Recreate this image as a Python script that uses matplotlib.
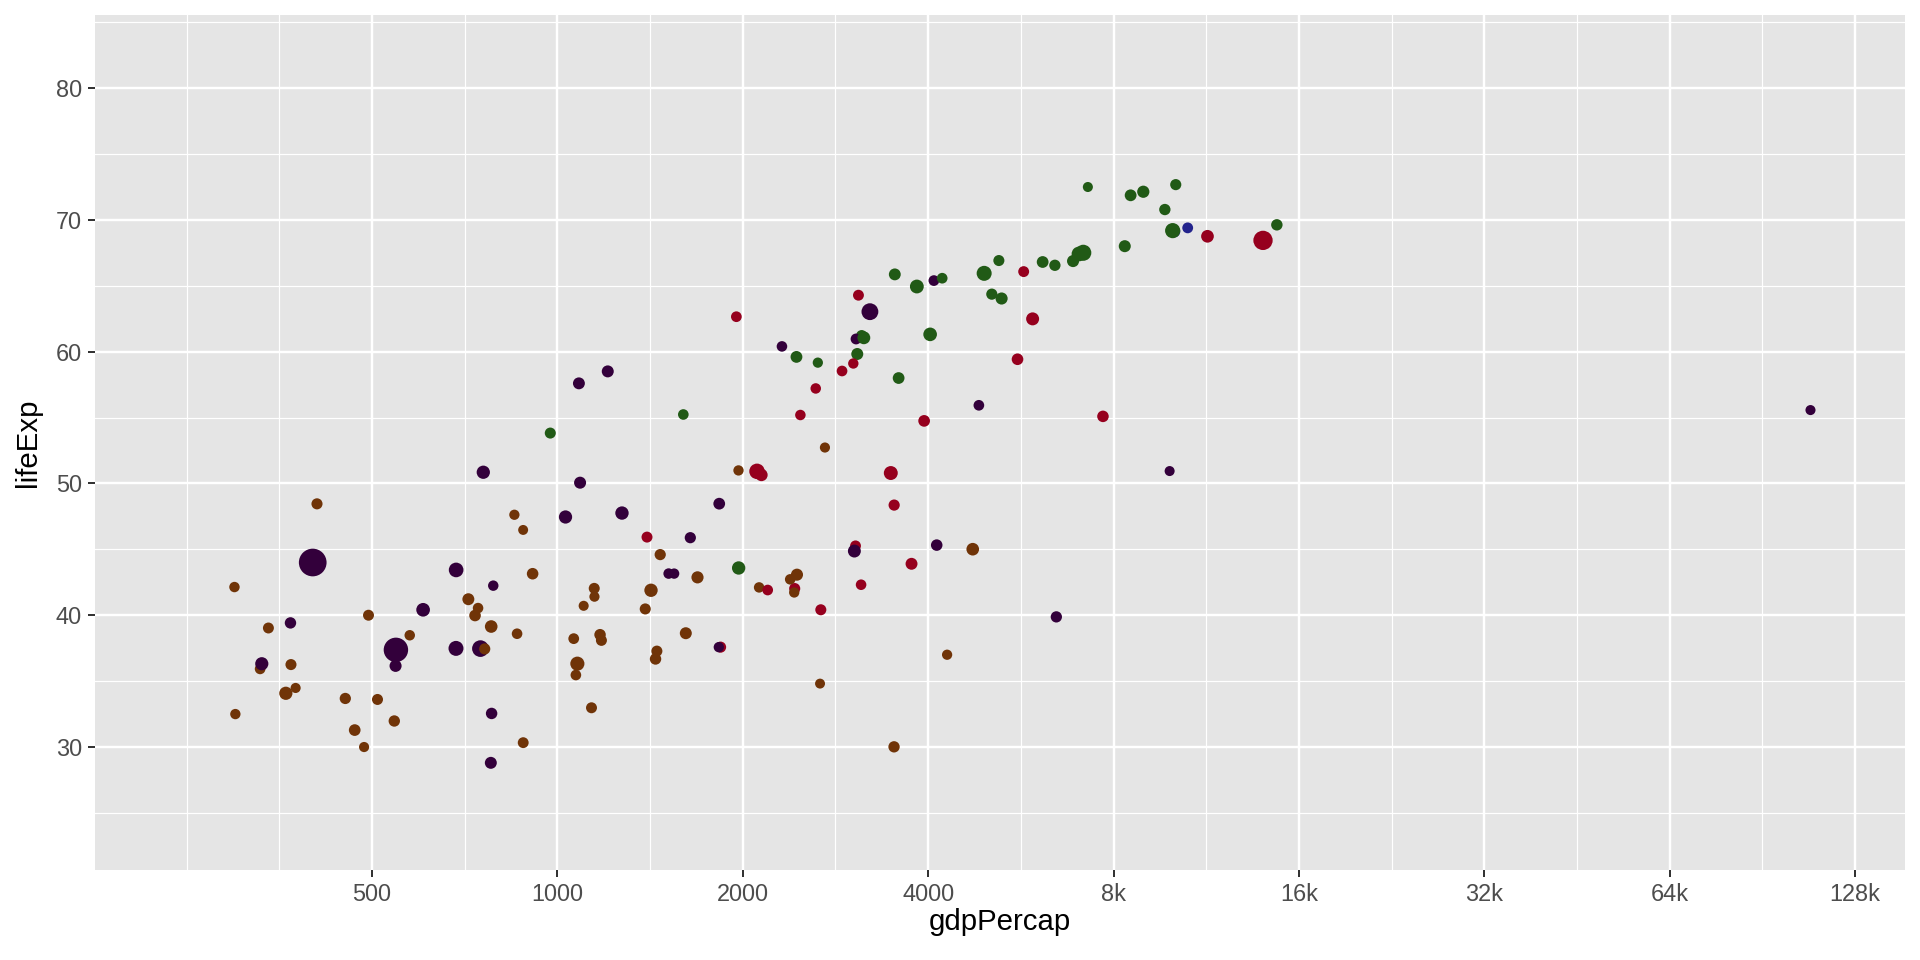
import numpy as np
import matplotlib.pyplot as plt
from matplotlib.ticker import NullFormatter

# gapminder, year 1952
countries = ["Afghanistan", "Albania", "Algeria", "Angola", "Argentina", "Australia", "Austria",
             "Bahrain", "Bangladesh", "Belgium", "Benin", "Bolivia", "Bosnia and Herzegovina",
             "Botswana", "Brazil", "Bulgaria", "Burkina Faso", "Burundi", "Cambodia", "Cameroon",
             "Canada", "Central African Republic", "Chad", "Chile", "China", "Colombia", "Comoros",
             "Congo, Dem. Rep.", "Congo, Rep.", "Costa Rica", "Cote d'Ivoire", "Croatia", "Cuba",
             "Czech Republic", "Denmark", "Djibouti", "Dominican Republic", "Ecuador", "Egypt",
             "El Salvador", "Equatorial Guinea", "Eritrea", "Ethiopia", "Finland", "France", "Gabon",
             "Gambia", "Germany", "Ghana", "Greece", "Guatemala", "Guinea", "Guinea-Bissau", "Haiti",
             "Honduras", "Hong Kong, China", "Hungary", "Iceland", "India", "Indonesia", "Iran", "Iraq",
             "Ireland", "Israel", "Italy", "Jamaica", "Japan", "Jordan", "Korea, Dem. Rep.",
             "Korea, Rep.", "Kuwait", "Lebanon", "Lesotho", "Liberia", "Libya", "Madagascar", "Malawi",
             "Malaysia", "Mali", "Mauritania", "Mauritius", "Mexico", "Mongolia", "Montenegro",
             "Morocco", "Mozambique", "Myanmar", "Namibia", "Nepal", "Netherlands", "New Zealand",
             "Nicaragua", "Niger", "Nigeria", "Norway", "Oman", "Pakistan", "Panama", "Paraguay",
             "Peru", "Philippines", "Poland", "Portugal", "Puerto Rico", "Reunion", "Romania",
             "Rwanda", "Sao Tome and Principe", "Saudi Arabia", "Senegal", "Serbia", "Sierra Leone",
             "Singapore", "Slovak Republic", "Slovenia", "Somalia", "South Africa", "Spain",
             "Sri Lanka", "Sudan", "Swaziland", "Sweden", "Switzerland", "Syria", "Taiwan",
             "Tanzania", "Thailand", "Togo", "Trinidad and Tobago", "Tunisia", "Turkey", "Uganda",
             "United Kingdom", "United States", "Uruguay", "Venezuela", "Vietnam",
             "West Bank and Gaza", "Yemen, Rep.", "Zambia", "Zimbabwe"]

continent = ["Asia", "Europe", "Africa", "Africa", "Americas", "Oceania", "Europe",
             "Asia", "Asia", "Europe", "Africa", "Americas", "Europe",
             "Africa", "Americas", "Europe", "Africa", "Africa", "Asia", "Africa",
             "Americas", "Africa", "Africa", "Americas", "Asia", "Americas", "Africa",
             "Africa", "Africa", "Americas", "Africa", "Europe", "Americas",
             "Europe", "Europe", "Africa", "Americas", "Americas", "Africa",
             "Americas", "Africa", "Africa", "Africa", "Europe", "Europe", "Africa",
             "Africa", "Europe", "Africa", "Europe", "Americas", "Africa", "Africa", "Americas",
             "Americas", "Asia", "Europe", "Europe", "Asia", "Asia", "Asia", "Asia",
             "Europe", "Asia", "Europe", "Americas", "Asia", "Asia", "Asia",
             "Asia", "Asia", "Asia", "Africa", "Africa", "Africa", "Africa", "Africa",
             "Asia", "Africa", "Africa", "Africa", "Americas", "Asia", "Europe",
             "Africa", "Africa", "Asia", "Africa", "Asia", "Europe", "Oceania",
             "Americas", "Africa", "Africa", "Europe", "Asia", "Asia", "Americas", "Americas",
             "Americas", "Asia", "Europe", "Europe", "Americas", "Africa", "Europe",
             "Africa", "Africa", "Asia", "Africa", "Europe", "Africa",
             "Asia", "Europe", "Europe", "Africa", "Africa", "Europe",
             "Asia", "Africa", "Africa", "Europe", "Europe", "Asia", "Asia",
             "Africa", "Asia", "Africa", "Americas", "Africa", "Europe", "Africa",
             "Europe", "Americas", "Americas", "Americas", "Asia",
             "Asia", "Asia", "Africa", "Africa"]

life_exp = [28.801, 55.23, 43.077, 30.015, 62.485, 69.12, 66.8,
            50.939, 37.484, 68.0, 38.223, 40.414, 53.82,
            47.622, 50.917, 59.6, 31.975, 39.031, 39.417, 38.523,
            68.75, 35.463, 38.092, 54.745, 44.0, 50.643, 40.715,
            39.143, 42.111, 57.206, 40.477, 61.21, 59.421,
            66.87, 70.78, 34.812, 45.928, 48.357, 41.893,
            45.262, 34.482, 35.928, 34.078, 66.55, 67.41, 37.003,
            30.0, 67.5, 43.149, 65.86, 42.023, 33.609, 32.5, 37.579,
            41.912, 60.96, 64.03, 72.49, 37.373, 37.468, 44.869, 45.32,
            66.91, 65.39, 65.94, 58.53, 63.03, 43.158, 50.056,
            47.453, 55.565, 55.928, 42.138, 38.48, 42.723, 36.681, 36.256,
            48.463, 33.685, 40.543, 50.986, 50.789, 42.244, 59.164,
            42.873, 31.286, 36.319, 41.725, 36.157, 72.13, 69.39,
            42.314, 37.444, 36.324, 72.67, 37.578, 43.436, 55.191, 62.649,
            43.902, 47.752, 61.31, 59.82, 64.28, 52.724, 61.05,
            40.0, 46.471, 39.875, 37.278, 57.996, 30.331,
            60.396, 64.36, 65.57, 32.978, 45.009, 64.94,
            57.593, 38.635, 41.407, 71.86, 69.62, 45.883, 58.5,
            41.215, 50.848, 38.596, 59.1, 44.6, 43.585, 39.978,
            69.18, 68.44, 66.071, 55.088, 40.412,
            43.16, 32.548, 42.038, 48.451]

pop = [8425333, 1282697, 9279525, 4232095, 17876956, 8691212, 6927772,
       120447, 46886859, 8730405, 1738315, 2883315, 2791000,
       442308, 56602560, 7274900, 4469979, 2445618, 4693836, 5009067,
       14785584, 1291695, 2682462, 6377619, 556263527, 12350771, 153936,
       14100005, 854885, 926317, 2977019, 3882229, 6007797,
       9125183, 4334000, 63149, 2491346, 3548753, 22223309,
       2042865, 216964, 1438760, 20860941, 4090500, 42459667, 420702,
       284320, 69145952, 5581001, 7733250, 3146381, 2664249, 580653, 3201488,
       1517453, 2125900, 9504000, 147962, 372000000, 82052000, 17272000, 5441766,
       2952156, 1620914, 47666000, 1426095, 86459025, 607914, 8865488,
       20947571, 160000, 1439529, 748747, 863308, 1019729, 4762912, 2917802,
       6748378, 3838168, 1022556, 516556, 30144317, 800663, 413834,
       9939217, 6446316, 20092996, 485831, 9182536, 10381988, 1994794,
       1165790, 3379468, 33119096, 3327728, 507833, 41346560, 940080, 1555876,
       8025700, 22438691, 25730551, 8526050, 2227000, 257700, 16630000,
       2534927, 60011, 4005677, 2755589, 6860147, 2143249,
       1127000, 3558137, 1489518, 2526994, 14264935, 28549870,
       7982342, 8504667, 290243, 7124673, 4815000, 3661549, 8550362,
       8322925, 21289402, 1219113, 662850, 3647735, 22235677, 5824797,
       50430000, 157553000, 2252965, 5439568, 26246839,
       1030585, 4963829, 2672000, 3080907]

gdp_percap = [779.4453, 1601.056, 2449.008, 3520.610, 5911.315, 10039.60, 6137.076,
              9867.085, 684.2442, 8343.105, 1062.752, 2677.326, 973.5332,
              851.2411, 2108.944, 2444.287, 543.2552, 339.2965, 368.4693, 1172.668,
              11367.16, 1071.311, 1178.666, 3939.979, 400.4486, 2144.115, 1102.991,
              780.5423, 2125.622, 2627.009, 1388.595, 3119.237, 5586.539,
              6876.140, 9692.385, 2669.530, 1397.717, 3522.111, 1418.822,
              3048.303, 375.6431, 328.9406, 362.1463, 6424.519, 7029.809, 4293.476,
              485.2307, 7144.114, 911.2989, 3530.690, 2428.238, 510.1965, 299.8503, 1840.367,
              2194.926, 3054.421, 5263.674, 7267.688, 546.5657, 749.6817, 3035.326, 4129.766,
              5210.280, 4086.522, 4931.404, 2898.531, 3216.956, 1546.908, 1088.278,
              1030.592, 108382.4, 4834.804, 298.8462, 575.5730, 2387.548, 1443.012, 369.1651,
              1831.133, 452.3370, 743.1159, 1967.956, 3478.126, 786.5669, 2647.586,
              1688.204, 468.5260, 331.0, 2423.780, 545.8657, 8941.572, 10556.58,
              3112.364, 761.8794, 1077.282, 10095.42, 1828.230, 684.5971, 2480.380, 1952.308,
              3758.523, 1272.880, 4029.330, 3068.320, 3081.960, 2718.885, 3144.613,
              493.3239, 879.5836, 6459.555, 1450.357, 3581.459, 879.7877,
              2315.138, 5074.659, 4215.042, 1135.750, 4725.296, 3834.035,
              1083.532, 1615.991, 1148.377, 8527.845, 14734.23, 1643.486, 1206.947,
              716.6501, 757.7974, 859.8087, 3023.272, 1468.476, 1969.101, 734.7535,
              9979.508, 13990.48, 5716.767, 7689.800, 605.0665,
              1515.592, 781.7176, 1147.389, 406.8841]

continent_colors = {"Africa": "#703408", "Americas": "#96001E", "Asia": "#33003B",
                    "Europe": "#215A16", "Oceania": "#23238C"}

x_breaks = [500, 1000, 2000, 4000, 8000, 16000, 32000, 64000, 128000]
x_labels = ["500", "1000", "2000", "4000", "8k", "16k", "32k", "64k", "128k"]
y_breaks = [30, 40, 50, 60, 70, 80]

plt.rcParams['font.family'] = ['Liberation Sans', 'DejaVu Sans']

# size like ggplot scale_size (area, range 1..6), converted to pixel diameter
pop_arr = np.array(pop, dtype=float)
sq = np.sqrt(pop_arr)
size_gg = 1 + 5 * (sq - sq.min()) / (sq.max() - sq.min())
dpi = 192
diam_px = 3.55 * size_gg + 6.4
diam_pt = diam_px * 72 / dpi
colors = [continent_colors[c] for c in continent]

xlim = (177.4, 154330)
ylim = (20.67, 85.54)

fig = plt.figure(figsize=(10, 5), dpi=dpi)
ax = fig.add_axes([95 / 1920, 1 - 870 / 960, 1810 / 1920, 855 / 960])
ax.set_facecolor("#E5E5E5")
for s in ax.spines.values():
    s.set_visible(False)

ax.scatter(gdp_percap, life_exp, s=diam_pt ** 2, c=colors, linewidths=0, zorder=3)

ax.set_xscale("log", base=2)

ax.set_xticks(x_breaks)
ax.set_xticklabels(x_labels)
minor_x = [250 * 2 ** (i / 2) for i in range(0, 20, 2)] + [250 * 2 ** (i / 2) for i in range(1, 20, 2)]
minor_x = [m for m in minor_x if xlim[0] < m < xlim[1] and m not in x_breaks]
ax.set_xticks(minor_x, minor=True)
ax.xaxis.set_minor_formatter(NullFormatter())
ax.set_yticks(y_breaks)
ax.set_yticks([25, 35, 45, 55, 65, 75, 85], minor=True)

ax.set_xlim(*xlim)
ax.set_ylim(*ylim)

ax.grid(which="major", color="white", linewidth=0.9, zorder=1)
ax.grid(which="minor", color="white", linewidth=0.45, zorder=1)
ax.set_axisbelow(True)

ax.tick_params(which="major", length=2.75, width=0.75, color="#333333",
               labelsize=8.8, labelcolor="#4D4D4D", pad=2.2)
ax.tick_params(which="minor", length=0)

ax.set_xlabel("gdpPercap", fontsize=11, color="black")
ax.set_ylabel("lifeExp", fontsize=11, color="black")
ax.xaxis.set_label_coords(0.5, (870 - 922) / 855)
ax.xaxis.label.set_va("center")
ax.yaxis.set_label_coords((28 - 95) / 1810, 0.5)
ax.yaxis.label.set_va("center")

fig.savefig("out.png", dpi=dpi)
